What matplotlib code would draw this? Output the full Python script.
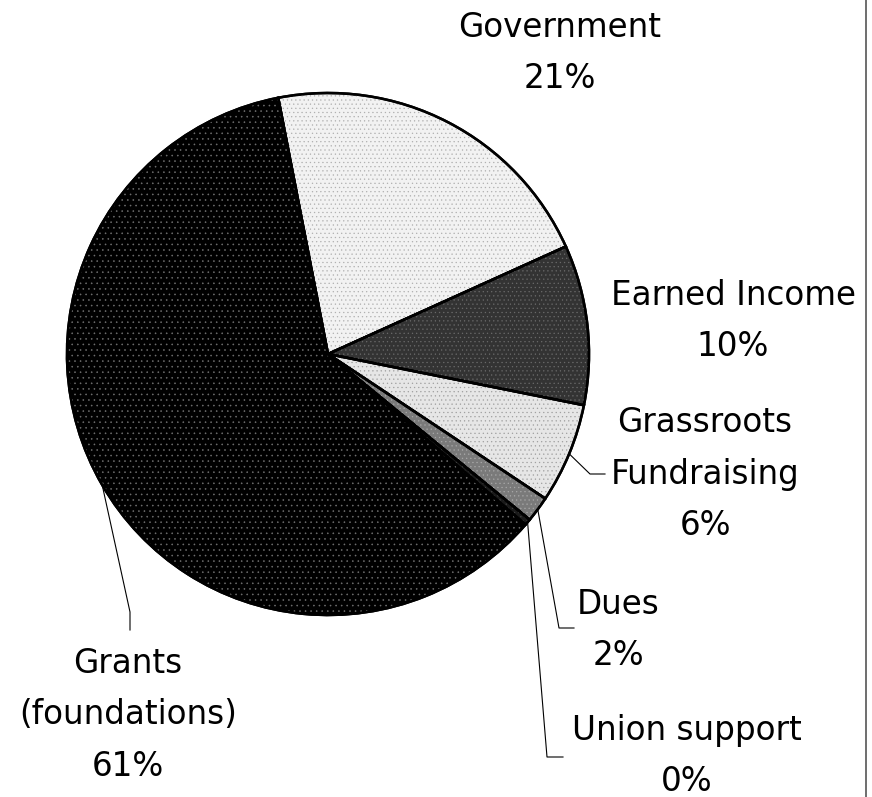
import matplotlib.pyplot as plt
from matplotlib.patches import Wedge
import numpy as np

plt.rcParams["hatch.linewidth"] = 0.4

# funding sources, clockwise from the top
sources = ["Government", "Earned Income", "Grassroots\nFundraising", "Dues",
           "Union support", "Grants\n(foundations)"]
shares = [21.3, 9.9, 6.2, 1.6, 0.4, 60.6]

face_colors = ["#f2f2f2", "#333333", "#e6e6e6", "#7a7a7a", "#1a1a1a", "#000000"]
dot_colors = ["#b0b0b0", "#6a6a6a", "#a0a0a0", "#a8a8a8", "#444444", "#707070"]
dot_hatch = ["....", "....", "....", "....", "....", "..."]

W, H = 872, 797
cx, cy, r = 328, H - 354, 261

# label centres and leader elbows (pixel coords, y down)
label_pos = [(560, 53), (733, 321), (705, 474), (618, 630), (687, 756), (128, 715)]
leaders = [None, None,
           [(590, 474), (605, 474)],
           [(559, 628), (574, 628)],
           [(547, 757), (563, 757)],
           [(130, 612), (130, 630)]]

fig = plt.figure(figsize=(W / 100, H / 100), dpi=100)
ax = fig.add_axes([0, 0, 1, 1])

wedges, _ = ax.pie(shares, colors=face_colors, startangle=101, counterclock=False,
                   center=(cx, cy), radius=r,
                   wedgeprops=dict(edgecolor="black", linewidth=1.8))

# dotted fill texture on top of each slice
for w, dc, hp in zip(wedges, dot_colors, dot_hatch):
    ax.add_patch(Wedge(w.center, w.r, w.theta1, w.theta2, fill=False,
                       hatch=hp, edgecolor=dc, linewidth=0, zorder=w.get_zorder() + 0.1))
    # redraw outline above the texture
    ax.add_patch(Wedge(w.center, w.r, w.theta1, w.theta2, fill=False,
                       edgecolor="black", linewidth=1.8, zorder=w.get_zorder() + 0.2))

for w, name, v, (tx, ty), lead in zip(wedges, sources, shares, label_pos, leaders):
    ax.text(tx, H - ty, f"{name}\n{v:.0f}%", ha="center", va="center",
            multialignment="center", fontsize=23.5, family="DejaVu Sans",
            linespacing=1.72)
    if lead is not None:
        mid = np.deg2rad((w.theta1 + w.theta2) / 2)
        xs = [cx + r * np.cos(mid)] + [p[0] for p in lead]
        ys = [cy + r * np.sin(mid)] + [H - p[1] for p in lead]
        ax.plot(xs, ys, color="black", linewidth=0.8, zorder=5)

# plot-area border on the right
ax.plot([866, 866], [0, H], color="#555555", linewidth=1.2)

ax.set_xlim(0, W)
ax.set_ylim(0, H)
ax.axis("off")

fig.savefig("out.png", dpi=100, facecolor="white")
